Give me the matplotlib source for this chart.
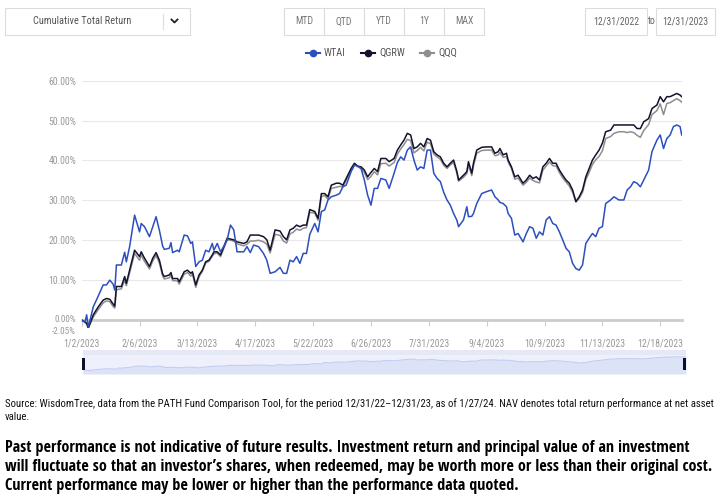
import numpy as np
import pandas as pd
import matplotlib
matplotlib.use('Agg')
import matplotlib.pyplot as plt
from matplotlib import font_manager as fm
from matplotlib import transforms as mtransforms
from matplotlib.patches import Rectangle
from matplotlib.lines import Line2D

# canvas size in pixels
W, H = 717, 503

# day offsets from 1/2/2023
day_offsets = [
    0, 2, 3, 4, 7, 10, 13, 15, 17, 19,
    20, 21, 24, 26, 27, 29, 32, 35, 36, 38,
    41, 43, 45, 47, 49, 50, 53, 54, 55, 58,
    59, 62, 64, 66, 67, 69, 71, 73, 75, 77,
    79, 80, 82, 84, 86, 88, 90, 92, 94, 98,
    100, 102, 104, 107, 110, 112, 114, 117, 120, 122,
    124, 126, 128, 130, 132, 134, 136, 138, 141, 143,
    145, 147, 149, 151, 154, 156, 158, 160, 163, 165,
    167, 169, 171, 173, 175, 177, 179, 181, 184, 186,
    189, 191, 193, 195, 197, 199, 201, 203, 205, 207,
    209, 211, 213, 215, 217, 219, 221, 223, 225, 227,
    228, 231, 233, 234, 236, 237, 239, 242, 245, 248,
    250, 252, 253, 255, 257, 258, 260, 262, 264, 267,
    269, 271, 273, 275, 277, 279, 281, 283, 285, 287,
    289, 291, 293, 295, 297, 299, 301, 303, 305, 307,
    309, 311, 313, 315, 317, 320, 322, 325, 328, 330,
    332, 334, 336, 338, 340, 343, 345, 348, 350, 352,
    354, 356, 358, 360, 362, 363,
]

wtai = [
    0.0, -0.5, 1.3, -1.8, 3.3, 6.0, 8.8, 8.8, 10.0, 9.0,
    7.5, 13.8, 13.8, 17.0, 14.6, 18.4, 26.3, 22.1, 24.2, 23.4,
    20.9, 23.4, 25.9, 22.5, 18.5, 17.7, 18.0, 19.4, 16.9, 17.5,
    17.1, 21.3, 21.1, 19.2, 19.6, 13.4, 14.6, 15.0, 17.5, 17.1,
    19.2, 17.5, 19.2, 17.1, 18.5, 20.1, 23.8, 22.6, 17.1, 17.1,
    18.4, 16.9, 18.8, 18.4, 16.7, 15.0, 11.7, 12.1, 13.2, 11.7,
    11.7, 15.0, 14.6, 15.9, 14.2, 16.7, 16.7, 21.5, 24.2, 22.1,
    27.2, 27.6, 30.1, 30.9, 31.3, 31.7, 33.4, 33.8, 37.2, 38.8,
    38.6, 38.0, 35.1, 31.3, 28.8, 33.0, 33.0, 35.5, 35.1, 33.0,
    36.8, 39.5, 40.9, 40.1, 42.6, 43.4, 40.1, 37.6, 38.4, 38.0,
    42.6, 42.6, 36.8, 35.5, 34.7, 32.0, 30.1, 28.8, 26.7, 25.0,
    23.4, 25.1, 28.4, 25.9, 26.0, 26.7, 29.2, 31.7, 32.2, 32.6,
    30.9, 30.1, 29.5, 29.2, 28.4, 26.7, 25.5, 21.3, 21.7, 19.6,
    21.7, 23.4, 23.0, 20.5, 22.1, 21.3, 25.1, 25.9, 24.2, 23.8,
    22.1, 20.1, 18.0, 17.1, 14.2, 12.9, 12.5, 13.8, 19.2, 20.5,
    21.7, 20.9, 23.0, 23.4, 29.2, 30.1, 30.9, 30.1, 30.1, 32.6,
    33.4, 34.7, 34.3, 33.4, 35.1, 37.6, 42.2, 45.1, 46.4, 43.0,
    45.5, 46.4, 48.5, 48.9, 48.5, 46.4,
]

qgrw = [
    0.0, -0.5, -0.8, -2.0, 1.3, 3.3, 5.0, 5.4, 5.2, 4.0,
    3.5, 8.4, 8.4, 10.9, 9.2, 12.5, 17.5, 15.9, 17.1, 15.5,
    13.4, 15.5, 16.9, 15.0, 11.5, 10.9, 11.3, 11.9, 10.4, 10.4,
    9.6, 12.1, 12.5, 11.7, 12.1, 8.8, 11.3, 12.5, 14.6, 15.0,
    16.3, 17.1, 17.1, 16.3, 18.4, 20.5, 20.3, 20.1, 19.6, 19.2,
    19.6, 21.3, 21.3, 21.3, 20.9, 20.1, 17.5, 22.6, 22.3, 20.9,
    20.1, 22.6, 23.0, 23.8, 23.4, 23.8, 23.8, 27.7, 27.2, 25.5,
    31.7, 31.7, 30.9, 33.8, 34.3, 34.3, 33.8, 35.5, 38.0, 39.3,
    38.6, 38.4, 37.6, 35.9, 37.0, 38.0, 37.2, 40.5, 40.5, 39.7,
    40.5, 42.6, 43.9, 45.1, 46.8, 46.4, 43.0, 43.4, 44.3, 43.4,
    45.5, 45.1, 42.2, 41.4, 40.9, 39.3, 38.4, 39.3, 40.1, 37.2,
    35.1, 36.3, 37.2, 39.7, 36.8, 39.3, 42.6, 43.3, 43.4, 43.4,
    41.8, 42.2, 43.0, 41.4, 41.8, 40.1, 38.4, 35.9, 36.3, 34.3,
    35.1, 36.3, 35.5, 35.9, 35.1, 38.4, 39.3, 40.5, 39.3, 39.3,
    37.6, 36.3, 35.1, 34.3, 32.6, 29.7, 30.9, 32.6, 35.9, 38.0,
    40.1, 41.4, 42.6, 44.3, 47.2, 47.6, 48.9, 48.9, 48.9, 48.9,
    48.9, 48.9, 48.0, 48.0, 49.7, 50.5, 53.0, 53.9, 56.0, 54.7,
    56.0, 56.0, 56.4, 56.8, 56.4, 56.0,
]

qqq = [
    0.0, -0.6, -1.0, -2.05, 0.8, 2.6, 4.3, 4.8, 4.6, 3.4,
    3.0, 7.6, 7.8, 10.0, 8.6, 11.8, 16.7, 15.0, 16.3, 14.7,
    12.8, 14.8, 16.2, 14.3, 11.0, 10.3, 10.6, 11.3, 9.9, 9.8,
    9.0, 11.5, 11.9, 11.0, 11.5, 8.2, 10.8, 12.2, 14.3, 14.7,
    16.0, 16.6, 16.8, 15.9, 18.0, 20.1, 20.0, 19.8, 19.1, 18.6,
    19.0, 19.8, 19.8, 20.0, 19.6, 19.0, 16.8, 21.5, 21.2, 19.8,
    19.3, 21.6, 22.0, 22.8, 22.5, 23.0, 23.2, 27.0, 26.8, 25.0,
    31.0, 31.2, 30.3, 33.0, 33.3, 33.5, 33.4, 35.0, 37.5, 39.0,
    38.4, 38.0, 37.0, 35.2, 36.0, 37.2, 36.4, 39.2, 39.3, 38.6,
    39.5, 41.6, 42.9, 44.0, 45.3, 45.0, 41.9, 42.5, 43.3, 42.4,
    44.6, 44.2, 41.6, 40.9, 40.3, 38.8, 38.0, 38.9, 39.5, 36.8,
    34.8, 35.8, 36.7, 38.8, 36.2, 38.6, 41.8, 42.5, 42.6, 42.6,
    41.2, 41.4, 42.0, 40.8, 41.0, 39.6, 38.0, 35.3, 35.6, 33.8,
    34.5, 35.6, 35.0, 34.6, 34.4, 37.6, 38.6, 39.6, 38.7, 38.6,
    37.0, 35.6, 34.6, 33.6, 32.0, 29.6, 30.5, 32.0, 35.2, 37.0,
    39.0, 40.2, 41.0, 42.4, 45.5, 46.0, 46.8, 47.2, 47.2, 47.0,
    47.2, 47.0, 46.3, 45.8, 47.5, 49.0, 51.5, 52.5, 54.2, 51.5,
    54.3, 54.5, 55.0, 55.5, 55.0, 54.6,
]

series_names = ['WTAI', 'QGRW', 'QQQ']
series_colors = ['#2c4fc0', '#12122e', '#8e8e8e']
x_tick_labels = ['1/2/2023', '2/6/2023', '3/13/2023', '4/17/2023', '5/22/2023',
                 '6/26/2023', '7/31/2023', '9/4/2023', '10/9/2023', '11/13/2023',
                 '12/18/2023']
y_ticks = [-2.05, 0, 10, 20, 30, 40, 50, 60]
buttons = ['MTD', 'QTD', 'YTD', '1Y', 'MAX']

start = pd.Timestamp('2023-01-02')
dates = start + pd.to_timedelta(day_offsets, unit='D')
tick_dates = [pd.Timestamp(s) for s in x_tick_labels]


# look for a narrow sans font file (the original uses a condensed face)
def find_narrow(bold):
    best, best_score = None, -1
    for f in fm.fontManager.ttflist:
        nm = f.name.lower()
        path = f.fname.lower()
        narrow = ('narrow' in nm or 'condensed' in nm or 'narrow' in path
                  or 'condensed' in path
                  or f.stretch in ('condensed', 'semi-condensed'))
        if not narrow or 'mono' in nm or ('serif' in nm and 'sans' not in nm):
            continue
        if 'extra' in path or 'ultra' in path or f.style != 'normal':
            continue
        w = f.weight if isinstance(f.weight, int) else fm.weight_dict.get(f.weight, 400)
        if (w >= 600) != bold:
            continue
        score = 0
        if 'liberation' in nm:
            score = 4
        elif 'noto sans' in nm:
            score = 3
        elif 'open sans' in nm or 'roboto' in nm:
            score = 2
        elif 'dejavu' in nm:
            score = 1
        score = score * 10 - abs(w - (700 if bold else 400)) / 100
        if score > best_score:
            best, best_score = f.fname, score
    return best


NARROW_REG = find_narrow(False)
NARROW_BOLD = find_narrow(True)


def fprop(size, bold=False):
    path = NARROW_BOLD if bold else NARROW_REG
    if path:
        return fm.FontProperties(fname=path, size=size)
    return fm.FontProperties(family=['Liberation Sans', 'DejaVu Sans'],
                             weight='bold' if bold else 'normal', size=size)


def fx(x):
    return x / W


def fy(y):
    return 1 - y / H


fig = plt.figure(figsize=(W / 100, H / 100), dpi=100)
fig.patch.set_facecolor('white')

# ---- header controls ----
box_kw = dict(transform=fig.transFigure, fill=False, edgecolor='#dcdcdc', lw=0.8)
fig.add_artist(Rectangle((fx(5), fy(35)), 185 / W, 27 / H, **box_kw))
fig.text(fx(82), fy(21.5), 'Cumulative Total Return', fontproperties=fprop(7.5),
         color='#555555', ha='center', va='center')
fig.add_artist(Line2D([fx(163), fx(163)], [fy(14), fy(29)], transform=fig.transFigure,
                      color='#dddddd', lw=0.8))
fig.add_artist(Line2D([fx(171.5), fx(174.5), fx(177.5)], [fy(19.5), fy(22.5), fy(19.5)],
                      transform=fig.transFigure, color='#222222', lw=1.3))

bx = 284
for b in buttons:
    fig.add_artist(Rectangle((fx(bx), fy(35)), 40 / W, 27 / H, **box_kw))
    fig.text(fx(bx + 20), fy(21.5), b, fontproperties=fprop(7), color='#777777',
             ha='center', va='center')
    bx += 40

fig.add_artist(Rectangle((fx(585), fy(35)), 62 / W, 27 / H, **box_kw))
fig.text(fx(616), fy(21.5), '12/31/2022', fontproperties=fprop(7), color='#666666',
         ha='center', va='center')
fig.text(fx(651.5), fy(21.5), 'to', fontproperties=fprop(7), color='#666666',
         ha='center', va='center')
fig.add_artist(Rectangle((fx(656), fy(35)), 59 / W, 27 / H, **box_kw))
fig.text(fx(685.5), fy(21.5), '12/31/2023', fontproperties=fprop(7), color='#666666',
         ha='center', va='center')

# ---- legend ----
lx = [306, 361, 420]
for name, col, x0 in zip(series_names, series_colors, lx):
    fig.add_artist(Line2D([fx(x0), fx(x0 + 14)], [fy(53), fy(53)], transform=fig.transFigure,
                          color=col, lw=1.5))
    fig.add_artist(Line2D([fx(x0 + 7)], [fy(53)], transform=fig.transFigure, marker='o',
                          markersize=4.5, color=col))
    fig.text(fx(x0 + 18), fy(53), name, fontproperties=fprop(7.5), color='#555555',
             ha='left', va='center')

# ---- main chart ----
ax = fig.add_axes([fx(81.7), fy(328.2), 600 / W, (328.2 - 80.7) / H])
ax.set_facecolor('white')
for v in y_ticks[2:]:
    ax.axhline(v, color='#e8e8e8', lw=0.8, zorder=0)

ax.plot(dates, qqq, color=series_colors[2], lw=1.1, zorder=2)
ax.plot(dates, qgrw, color=series_colors[1], lw=1.1, zorder=3)
ax.plot(dates, wtai, color=series_colors[0], lw=1.1, zorder=4)

ax.set_xlim(start, start + pd.Timedelta(days=363))
ax.set_ylim(-2.05, 60)
ax.set_yticks(y_ticks)
ax.set_yticklabels([f'{v:.2f}%' for v in y_ticks])
ax.set_xticks(tick_dates)
ax.set_xticklabels(x_tick_labels)

for s in ['top', 'right', 'left']:
    ax.spines[s].set_visible(False)
ax.spines['bottom'].set_position(('data', 0))
ax.spines['bottom'].set_color('#cccccc')
ax.spines['bottom'].set_linewidth(2)
ax.spines['bottom'].set_zorder(1)

ax.tick_params(axis='y', length=0, pad=4, labelcolor='#999999')
ax.tick_params(axis='x', length=4, width=0.8, color='#cccccc', pad=9, labelcolor='#999999')
for lbl in ax.get_xticklabels() + ax.get_yticklabels():
    lbl.set_fontproperties(fprop(7))

# the -2.05% and 0.00% labels sit very close; nudge them apart a little
ylbls = ax.get_yticklabels()
for lbl, dy in ((ylbls[0], -2.5), (ylbls[1], 1.5)):
    lbl.set_fontproperties(fprop(6.6))
    lbl.set_transform(lbl.get_transform()
                      + mtransforms.ScaledTranslation(0, dy / 100, fig.dpi_scale_trans))

# ---- navigator / slider ----
nav = fig.add_axes([fx(83.3), fy(374), (686 - 83.3) / W, 24 / H])
nav.set_xlim(start, start + pd.Timedelta(days=363))
nav.set_ylim(-17, 86)
nav.set_facecolor('#eef1fc')
nav.fill_between(dates, -17, qgrw, color='#dde3f7', lw=0)
nav.plot(dates, qgrw, color='#c3cdf1', lw=0.8)
nav.axhspan(66, 86, color='#e5e9f6', lw=0)
nav.set_xticks([])
nav.set_yticks([])
for s in nav.spines.values():
    s.set_visible(False)
for hx in (81.7, 683.2):
    fig.add_artist(Rectangle((fx(hx), fy(370)), 2.8 / W, 12.5 / H, transform=fig.transFigure,
                             color='#0b1033', lw=0))

# ---- footnotes ----
r = fig.canvas.get_renderer()


def fit_text(x, y, s, width_px, size, bold=False, **kw):
    t = fig.text(fx(x), fy(y), s, fontproperties=fprop(size, bold), ha='left',
                 va='center', **kw)
    w = t.get_window_extent(r).width
    new = size * width_px / w
    t.set_fontproperties(fprop(new, bold))
    return new


src1 = ('Source: WisdomTree, data from the PATH Fund Comparison Tool, for the period '
        '12/31/22\u201312/31/23, as of 1/27/24. NAV denotes total return performance at net asset')
fs_src = fit_text(5, 404, src1, 710, 8, color='#111111')
fig.text(fx(5), fy(417), 'value.', fontproperties=fprop(fs_src), color='#111111',
         ha='left', va='center')

bold_lines = [
    'Past performance is not indicative of future results. Investment return and principal value of an investment',
    'will fluctuate so that an investor\u2019s shares, when redeemed, may be worth more or less than their original cost.',
    'Current performance may be lower or higher than the performance data quoted.',
]
fs_b = fit_text(5, 467, bold_lines[1], 707, 12, bold=True, color='black')
fig.text(fx(5), fy(448), bold_lines[0], fontproperties=fprop(fs_b, True), color='black',
         ha='left', va='center')
fig.text(fx(5), fy(486), bold_lines[2], fontproperties=fprop(fs_b, True), color='black',
         ha='left', va='center')

fig.savefig('out.png', dpi=100)
